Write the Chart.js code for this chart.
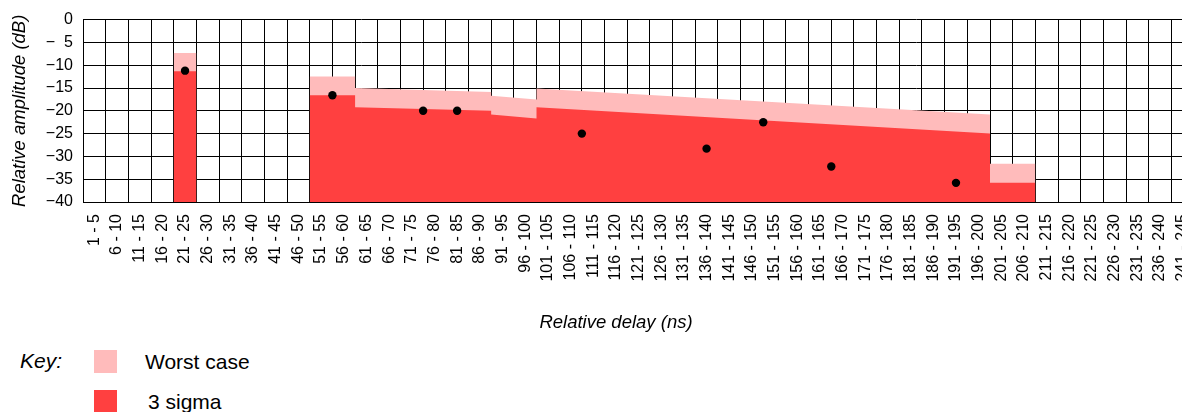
<!DOCTYPE html>
<html>
<head>
<meta charset="utf-8">
<script src="https://cdn.jsdelivr.net/npm/chart.js@4/dist/chart.umd.min.js"></script>
<style>
  body { margin: 0; background: #fff; }
  #wrap {
    position: relative;
    width: 1182px;
    height: 412px;
    overflow: hidden;
    font-family: 'Liberation Sans', Arial, sans-serif;
    color: #000;
  }
  #chart { position: absolute; left: 0; top: 0; }
  .txt { position: absolute; white-space: nowrap; }
  .key { font-size: 21px; line-height: 21px; }
  .swatch { position: absolute; width: 23px; height: 23px; }
</style>
</head>
<body>
<div id="wrap">
  <canvas id="chart" width="1214" height="340"></canvas>
  <div class="txt" style="left:466px;width:300px;text-align:center;top:313px;font-size:18.5px;line-height:18.5px;font-style:italic;">Relative delay (ns)</div>
  <div class="txt key" style="left:20px;top:350px;font-style:italic;">Key:</div>
  <div class="swatch" style="left:94px;top:350px;background:#ffbbbb;"></div>
  <div class="txt key" style="left:145px;top:351px;">Worst case</div>
  <div class="swatch" style="left:94px;top:390px;background:#ff4040;"></div>
  <div class="txt key" style="left:148px;top:391px;">3 sigma</div>
</div>
<script>
// delay bins along the bottom (5 ns each)
const delayLabels = [
  '1 - 5', '6 - 10', '11 - 15', '16 - 20', '21 - 25', '26 - 30', '31 - 35',
  '36 - 40', '41 - 45', '46 - 50', '51 - 55', '56 - 60', '61 - 65', '66 - 70',
  '71 - 75', '76 - 80', '81 - 85', '86 - 90', '91 - 95', '96 - 100',
  '101 - 105', '106 - 110', '111 - 115', '116 - 120', '121 - 125',
  '126 - 130', '131 - 135', '136 - 140', '141 - 145', '146 - 150',
  '151 - 155', '156 - 160', '161 - 165', '166 - 170', '171 - 175',
  '176 - 180', '181 - 185', '186 - 190', '191 - 195', '196 - 200',
  '201 - 205', '206 - 210', '211 - 215', '216 - 220', '221 - 225',
  '226 - 230', '231 - 235', '236 - 240', '241 - 245'
];

const ampTickValues = [0, -5, -10, -15, -20, -25, -30, -35, -40];
const ampTickLabels = ['0', '\u2212\u20075', '\u221210', '\u221215', '\u221220',
  '\u221225', '\u221230', '\u221235', '\u221240'];

// template outlines, delay in ns, level in dB (null = gap)
const worstDelay = [20, 25, 25, 50, 60, 60, 90, 90, 100, 100, 200, 200, 210];
const worstDb = [-7.3, -7.3, null, -12.5, -12.5, -15.0, -15.9, -16.7, -17.5, -15.1, -20.8, -31.6, -31.6];

const sigmaDelay = [20, 25, 25, 50, 60, 60, 90, 90, 100, 100, 200, 200, 210];
const sigmaDb = [-11.3, -11.3, null, -16.6, -16.6, -19.2, -20.0, -20.8, -21.7, -19.2, -25.0, -35.8, -35.8];

// measured echoes
const echoDelay = [22.5, 55, 75, 82.5, 110, 137.5, 150, 165, 192.5];
const echoDb = [-11.2, -16.6, -20.0, -20.0, -25.0, -28.3, -22.5, -32.2, -35.8];

const toPoints = (xs, ys) => xs.map((x, i) => ({ x, y: ys[i] }));

Chart.defaults.font.family = "'Liberation Sans', Arial, sans-serif";
Chart.defaults.color = '#000';

const ctx = document.getElementById('chart').getContext('2d');

new Chart(ctx, {
  type: 'line',
  data: {
    datasets: [
      {
        label: 'Echoes',
        type: 'scatter',
        data: toPoints(echoDelay, echoDb),
        backgroundColor: '#000',
        borderWidth: 0,
        pointRadius: 4.2,
        order: 0,
      },
      {
        label: '3 sigma',
        data: toPoints(sigmaDelay, sigmaDb),
        backgroundColor: '#ff4040',
        borderWidth: 0,
        pointRadius: 0,
        fill: 'start',
        tension: 0,
        spanGaps: false,
        order: 1,
      },
      {
        label: 'Worst case',
        data: toPoints(worstDelay, worstDb),
        backgroundColor: '#ffbbbb',
        borderWidth: 0,
        pointRadius: 0,
        fill: 'start',
        tension: 0,
        spanGaps: false,
        order: 2,
      },
    ],
  },
  options: {
    responsive: false,
    animation: false,
    events: [],
    layout: { padding: { top: 13.5, right: 6, left: 0, bottom: 0 } },
    plugins: {
      legend: { display: false },
      tooltip: { enabled: false },
    },
    scales: {
      x: {
        type: 'linear',
        min: 0,
        max: 245,
        afterBuildTicks(scale) {
          scale.ticks = delayLabels.map((l, i) => ({ value: i * 5 + 2.5 }));
        },
        afterFit(scale) {
          scale.height = 138;
        },
        grid: { color: '#000', lineWidth: 1, drawTicks: false, offset: true },
        border: { color: '#000', width: 1 },
        ticks: {
          autoSkip: false,
          minRotation: 90,
          maxRotation: 90,
          padding: 12,
          font: { size: 16 },
          callback: (value, index) => delayLabels[index],
        },
      },
      y: {
        min: -40,
        max: 0,
        afterFit(scale) {
          scale.width = 83;
        },
        grid: { color: '#000', lineWidth: 1, drawTicks: false },
        border: { color: '#000', width: 1 },
        ticks: {
          stepSize: 5,
          padding: 10,
          font: { size: 16 },
          callback: value => ampTickLabels[ampTickValues.indexOf(value)],
        },
        title: {
          display: true,
          text: 'Relative amplitude (dB)',
          font: { size: 18.5, style: 'italic' },
          padding: { top: 9, bottom: 0 },
        },
      },
    },
  },
});
</script>
</body>
</html>
